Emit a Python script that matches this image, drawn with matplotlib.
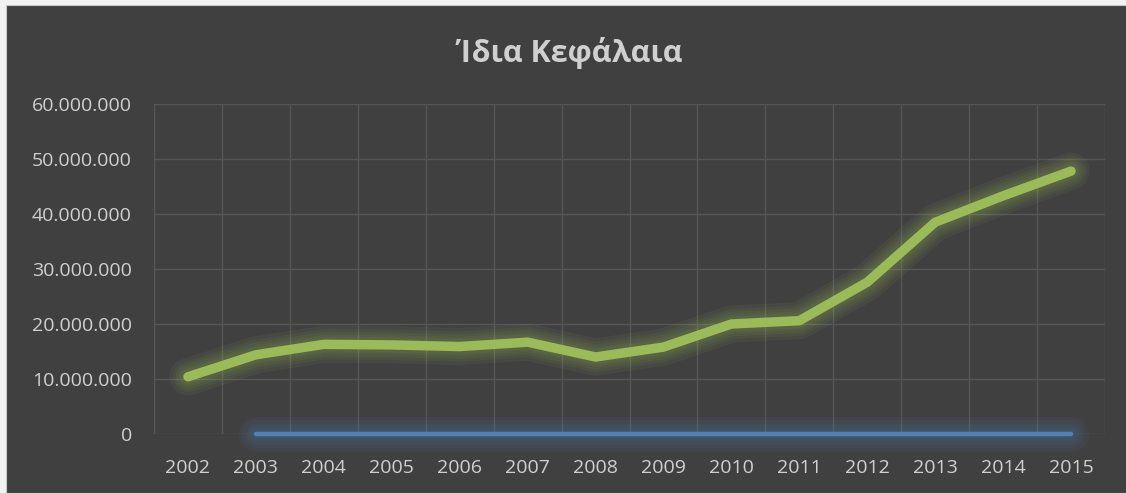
"""
Ίδια Κεφάλαια — line chart, dark Excel-style theme.
"""
import matplotlib

matplotlib.use("Agg")
import matplotlib.pyplot as plt  # noqa: E402
from matplotlib.patches import Rectangle  # noqa: E402
from matplotlib.ticker import FuncFormatter, MultipleLocator  # noqa: E402

# --- data -------------------------------------------------------------------
years = ["2002", "2003", "2004", "2005", "2006", "2007", "2008",
         "2009", "2010", "2011", "2012", "2013", "2014", "2015"]
equity = [10.4e6, 14.4e6, 16.3e6, 16.2e6, 15.9e6, 16.7e6, 14.0e6,
          15.8e6, 20.0e6, 20.6e6, 27.6e6, 38.5e6, 43.3e6, 47.8e6]
second_years = years[1:]
second_values = [0] * len(second_years)

BG = "#404040"
TEXT = "#d0d0d0"
GRID = "#575757"
GREEN = "#9bbb59"
BLUE = "#4f81bd"

plt.rcParams["font.family"] = ["Open Sans", "DejaVu Sans"]

fig = plt.figure(figsize=(11.26, 4.93), dpi=100)
fig.patch.set_facecolor("#f2f2f2")
# chart area (slight light border on the left/top, like the screenshot)
fig.patches.append(Rectangle((0.0055, 0.0), 1.0, 0.99, transform=fig.transFigure,
                             facecolor=BG, edgecolor="#c8c8c8", lw=0.8, zorder=-10))

ax = fig.add_axes([154 / 1126, 1 - 434 / 493, (1105 - 154) / 1126, (434 - 104) / 493])
ax.set_facecolor(BG)

x = list(range(len(years)))
x2 = [years.index(y) for y in second_years]


def glow_line(xs, ys, color, width, glow=(20, 15, 11, 7, 4)):
    """Draw a line with a soft glow underneath."""
    for extra in glow:
        ax.plot(xs, ys, color=color, lw=width + extra, alpha=0.07,
                solid_capstyle="round", solid_joinstyle="round", zorder=2,
                clip_on=False)
    ax.plot(xs, ys, color=color, lw=width, solid_capstyle="round",
            solid_joinstyle="round", zorder=3, clip_on=False)


glow_line(x2, second_values, BLUE, 3.2, glow=(22, 17, 12, 8, 4))
glow_line(x, equity, GREEN, 6.8)

ax.set_xlim(-0.5, len(years) - 0.5)
ax.set_ylim(0, 60e6)
ax.yaxis.set_major_locator(MultipleLocator(10e6))
ax.yaxis.set_major_formatter(FuncFormatter(lambda v, _: f"{int(v):,}".replace(",", ".")))
ax.set_xticks(x, years)
ax.set_xticks([i + 0.5 for i in range(-1, len(years))], minor=True)

ax.grid(axis="y", which="major", color=GRID, lw=1.0, zorder=1)
ax.grid(axis="x", which="minor", color=GRID, lw=1.0, zorder=1)
ax.tick_params(which="both", length=0)
ax.tick_params(axis="y", colors=TEXT, labelsize=14, pad=16)
ax.tick_params(axis="x", colors=TEXT, labelsize=14, pad=18)
for s in ax.spines.values():
    s.set_visible(False)

fig.text(570 / 1126, 1 - 53 / 493, "Ίδια Κεφάλαια", ha="center", va="center",
         fontsize=22, fontweight="bold", color=TEXT)

fig.savefig("out.png", dpi=100, facecolor=fig.get_facecolor())
